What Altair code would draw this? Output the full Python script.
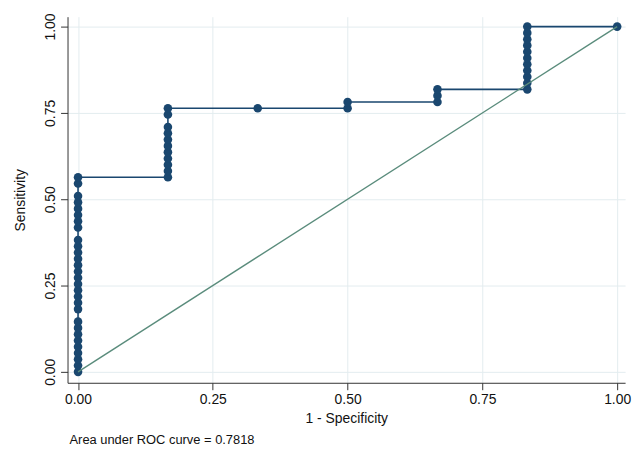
import altair as alt
import pandas as pd

# ROC points: 1 - specificity (false positive rate) and sensitivity
fpr_values = (
    [0.0] * 29
    + [0.1667] * 11
    + [0.3333]
    + [0.5] * 2
    + [0.6667] * 3
    + [0.8333] * 11
    + [1.0]
)
sens_values = [
    # fpr = 0
    0.0000, 0.0182, 0.0364, 0.0545, 0.0727, 0.0909, 0.1091, 0.1273, 0.1455,
    0.1818, 0.2000, 0.2182, 0.2364, 0.2545, 0.2727, 0.2909, 0.3091, 0.3273,
    0.3455, 0.3636, 0.3818, 0.4182, 0.4364, 0.4545, 0.4727, 0.4909, 0.5091,
    0.5455, 0.5636,
    # fpr = 1/6
    0.5636, 0.5818, 0.6000, 0.6182, 0.6364, 0.6545, 0.6727, 0.6909, 0.7091,
    0.7455, 0.7636,
    # fpr = 2/6
    0.7636,
    # fpr = 3/6
    0.7636, 0.7818,
    # fpr = 4/6
    0.7818, 0.8000, 0.8182,
    # fpr = 5/6
    0.8182, 0.8364, 0.8545, 0.8727, 0.8909, 0.9091, 0.9273, 0.9455, 0.9636,
    0.9818, 1.0000,
    # fpr = 1
    1.0000,
]
ref_x = [0.0, 1.0]
ref_y = [0.0, 1.0]
tick_values = [0.0, 0.25, 0.5, 0.75, 1.0]
auc_text = "Area under ROC curve = 0.7818"

roc = pd.DataFrame({"fpr": fpr_values, "sens": sens_values})
roc["order"] = range(len(roc))
ref = pd.DataFrame({"fpr": ref_x, "sens": ref_y})

navy = "#1a476f"
font = "Liberation Sans"

x_enc = alt.X(
    "fpr:Q",
    scale=alt.Scale(domain=[-0.0195, 1.0147], nice=False, zero=False),
    axis=alt.Axis(values=tick_values, format=".2f", title="1 - Specificity",
                  labelPadding=3, titlePadding=5),
)
y_enc = alt.Y(
    "sens:Q",
    scale=alt.Scale(domain=[-0.0316, 1.0287], nice=False, zero=False),
    axis=alt.Axis(values=tick_values, format=".2f", title="Sensitivity",
                  labelAngle=270, labelPadding=3, titlePadding=16),
)

line = alt.Chart(roc).mark_line(color=navy, strokeWidth=1.6).encode(
    x=x_enc, y=y_enc, order="order:Q"
)
pts = alt.Chart(roc).mark_circle(color=navy, size=75, opacity=1).encode(
    x="fpr:Q", y="sens:Q"
)
diag = alt.Chart(ref).mark_line(color="#5a8c7c", strokeWidth=1.4).encode(
    x="fpr:Q", y="sens:Q"
)

chart = (
    alt.layer(line, pts, diag)
    .properties(
        width=562,
        height=369,
        padding={"left": 6, "top": 3, "right": 5, "bottom": 0},
        title=alt.TitleParams(
            auc_text,
            orient="bottom",
            anchor="start",
            frame="group",
            fontSize=13,
            fontWeight="normal",
            font=font,
            color="#111111",
            offset=9,
            dx=2,
        ),
    )
    .configure_view(stroke=None)
    .configure_axis(
        labelFont=font,
        titleFont=font,
        labelFontSize=14,
        titleFontSize=14,
        titleFontWeight="normal",
        labelColor="#111111",
        titleColor="#111111",
        domainColor="#333333",
        tickColor="#333333",
        tickSize=7,
        gridColor="#e3ecef",
        gridWidth=1,
    )
)

chart.save("out.html", embed_options={"renderer": "svg", "actions": False})
